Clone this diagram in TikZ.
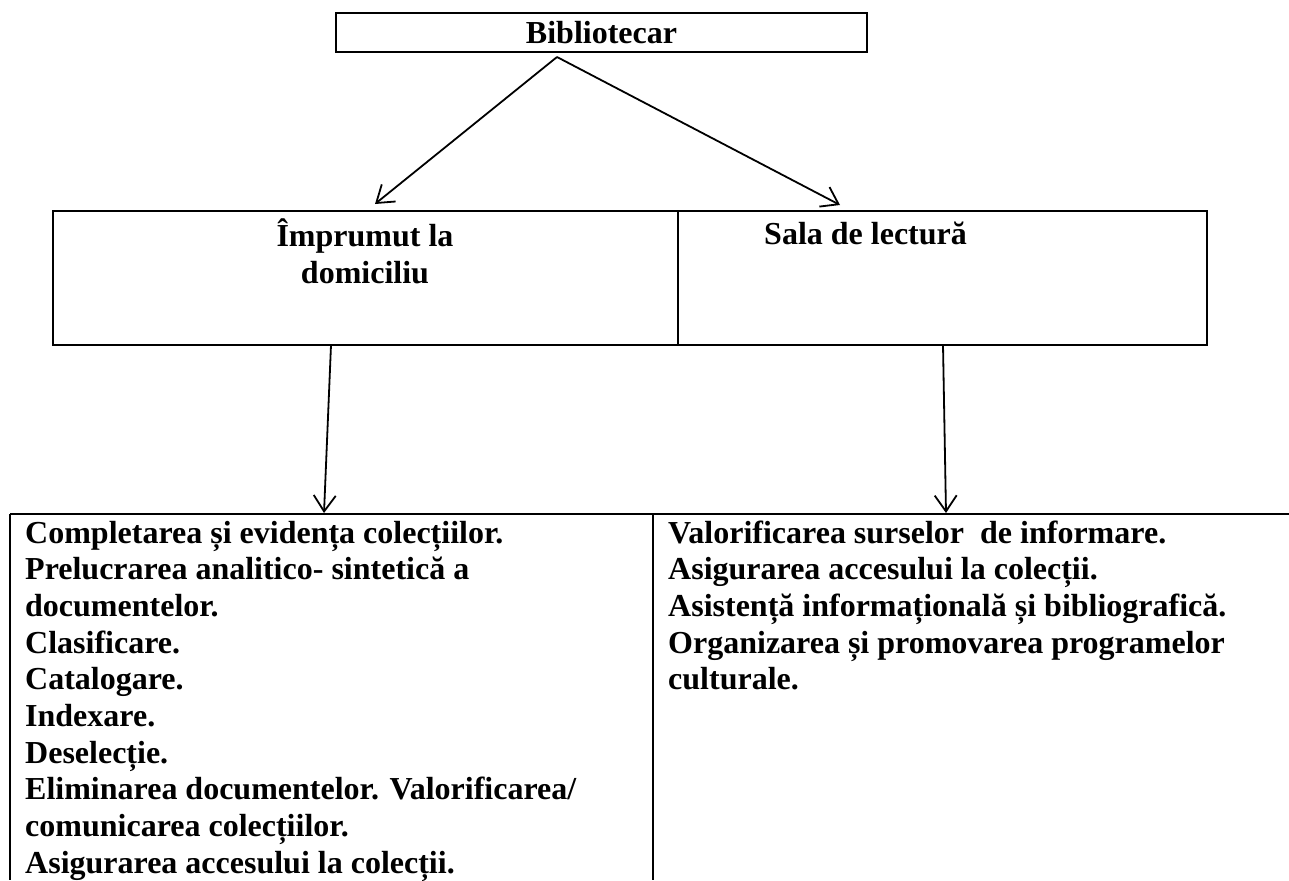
\documentclass[tikz,border=0pt]{standalone}
\usepackage{fontspec}
\setmainfont{Liberation Serif}
\usetikzlibrary{arrows.meta}
\begin{document}
\begin{tikzpicture}[x=1pt,y=-1pt,
  box/.style={draw,line width=2pt,inner sep=0pt},
  txt/.style={font=\fontsize{32}{36.8}\selectfont\bfseries,inner sep=0pt},
  conn/.style={line width=1.8pt,-{Straight Barb[length=16pt,width=22pt]}},
  rule/.style={line width=2pt}]
\useasboundingbox (0,0) rectangle (1289,880);
% top box
\node[box,minimum width=531pt,minimum height=39pt] (bib) at (601.5,32.5) {};
\node[txt,anchor=base] (bibt) at (601.5,44) {Bibliotecar};
% middle boxes
\node[box,minimum width=625pt,minimum height=134pt] (imp) at (365.5,278) {};
\node[box,minimum width=529pt,minimum height=134pt] (sala) at (942.5,278) {};
\node[txt,anchor=base] (impt1) at (365,246) {Împrumut la};
\node[txt,anchor=base] (impt2) at (365,283) {domiciliu};
\node[txt,anchor=base west] (salat) at (764,244) {Sala de lectură};
% table
\coordinate (tTL) at (10,514);
\coordinate (tTR) at (1289,514);
\coordinate (tBL) at (10,880);
\coordinate (tMT) at (653,514);
\coordinate (tMB) at (653,880);
\draw[rule] (tTL) -- (tTR);
\draw[rule] (tTL) -- (tBL);
\draw[rule] (tMT) -- (tMB);
\foreach \t [count=\i from 0] in {Completarea și evidența colecțiilor.,Prelucrarea analitico- sintetică a,documentelor.,Clasificare.,Catalogare.,Indexare.,Deselecție.,Eliminarea documentelor. Valorificarea/,comunicarea colecțiilor.,Asigurarea accesului la colecții.}
  \node[txt,anchor=base west] (left\i) at (25,{543+36.7*\i}) {\t};
\foreach \t [count=\i from 0] in {Valorificarea surselor~ de informare.,Asigurarea accesului la colecții.,Asistență informațională și bibliografică.,Organizarea și promovarea programelor,culturale.}
  \node[txt,anchor=base west] (right\i) at (668,{543+36.7*\i}) {\t};
% connectors
\coordinate (apex) at (557,57);
\coordinate (tipA) at (375,204);
\coordinate (tipB) at (840,205);
\coordinate (srcL) at (331,345);
\coordinate (srcR) at (943,345);
\coordinate (tipL) at (324,513);
\coordinate (tipR) at (946,513);
\draw[conn] (apex) -- (tipA);
\draw[conn] (apex) -- (tipB);
\draw[conn] (srcL) -- (tipL);
\draw[conn] (srcR) -- (tipR);
\end{tikzpicture}
\end{document}
